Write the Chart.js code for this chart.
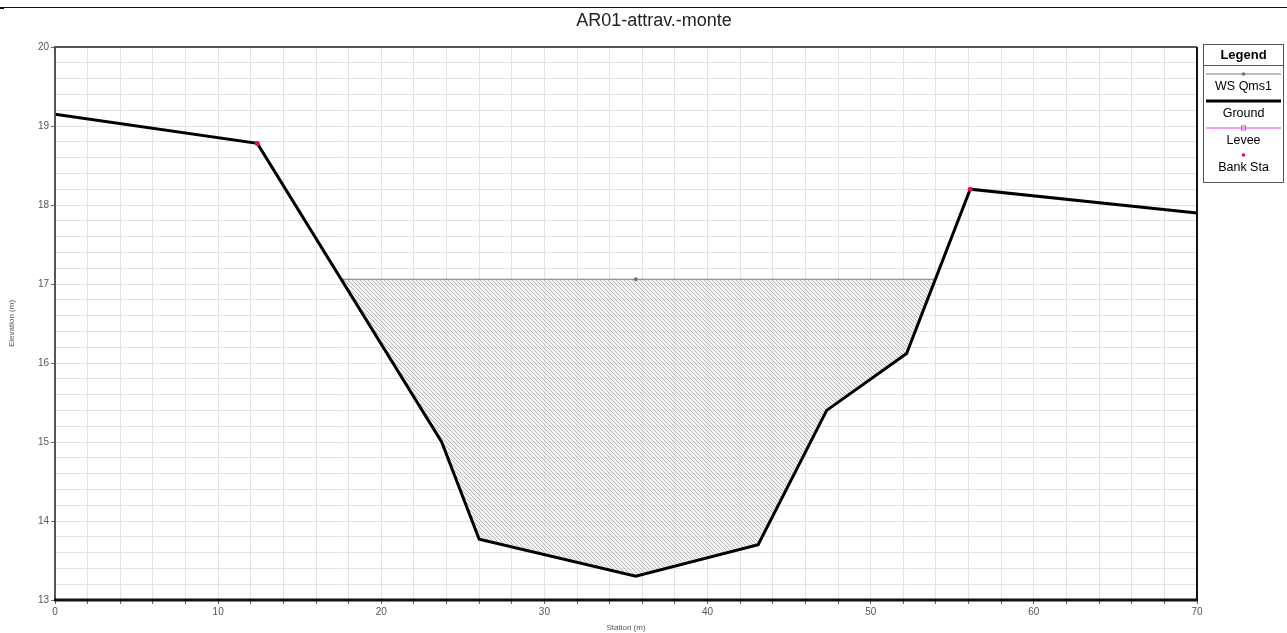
<!DOCTYPE html>
<html>
<head>
<meta charset="utf-8">
<title>AR01-attrav.-monte</title>
<script src="https://cdn.jsdelivr.net/npm/chart.js@4/dist/chart.umd.min.js"></script>
<style>
  html, body { margin: 0; padding: 0; background: #fff; }
  #wrap { position: relative; width: 1287px; height: 633px; }
  #topRule { position: absolute; left: 0; top: 7px; width: 1287px; height: 1px; background: #111; }
  #topRule::before { content: ""; position: absolute; left: 0; top: 0; width: 4px; height: 2px; background: #111; }
  canvas { display: block; }
</style>
</head>
<body>
<div id="wrap">
  <canvas id="chart" width="1287" height="633"></canvas>
  <div id="topRule"></div>
</div>
<script>
// Cross-section AR01 (station / elevation, metres)
const groundStation = [0, 12.4, 23.7, 26.0, 35.6, 43.1, 47.3, 52.2, 56.1, 70];
const groundElev    = [19.15, 18.78, 15.0, 13.77, 13.3, 13.7, 15.4, 16.12, 18.2, 17.9];

// Main-channel bank stations
const bankStation = [12.4, 56.1];
const bankElev    = [18.78, 18.2];

// Computed water surface for profile Qms1
const wsElev = 17.06;
const wsMarkStation = 35.6;

// Axis tick settings
const xTickLabels = [0, 10, 20, 30, 40, 50, 60, 70];
const yTickLabels = [13, 14, 15, 16, 17, 18, 19, 20];

const chartTitle = 'AR01-attrav.-monte';

const ground = groundStation.map((x, i) => ({ x, y: groundElev[i] }));

// Where the water surface meets the ground on either side of the channel
function crossing(fromIdx, step) {
  for (let i = fromIdx; i >= 0 && i + step >= 0 && i + step < ground.length; i += step) {
    const a = ground[i], b = ground[i + step];
    if ((a.y - wsElev) * (b.y - wsElev) <= 0 && a.y !== b.y) {
      const t = (wsElev - a.y) / (b.y - a.y);
      return { x: a.x + t * (b.x - a.x), idx: i };
    }
  }
  return null;
}
const lowIdx = groundElev.indexOf(Math.min(...groundElev));
const leftCross = crossing(lowIdx, -1);
const rightCross = crossing(lowIdx, 1);

// Wetted area polygon: left edge -> ground below water -> right edge
const wetArea = [{ x: leftCross.x, y: wsElev }];
for (let i = 0; i < ground.length; i++) {
  if (ground[i].x > leftCross.x && ground[i].x < rightCross.x && ground[i].y < wsElev) wetArea.push(ground[i]);
}
wetArea.push({ x: rightCross.x, y: wsElev });

const wsLine = [
  { x: leftCross.x, y: wsElev },
  { x: wsMarkStation, y: wsElev },
  { x: rightCross.x, y: wsElev }
];

// Diagonal hatch used for the wetted area
function hatchPattern() {
  const c = document.createElement('canvas');
  c.width = 4; c.height = 4;
  const g = c.getContext('2d');
  g.fillStyle = 'rgba(235,235,235,0.6)';
  g.fillRect(0, 0, 4, 4);
  g.strokeStyle = 'rgba(150,150,150,0.6)';
  g.lineWidth = 1;
  g.beginPath();
  g.moveTo(-1, -1); g.lineTo(5, 5);
  g.moveTo(-1, 3); g.lineTo(1, 5);
  g.moveTo(3, -1); g.lineTo(5, 1);
  g.stroke();
  return g.createPattern(c, 'repeat');
}

const FONT = "'Liberation Sans', Arial, sans-serif";

// Chart heading, centred over the page area to the left of the legend
const heading = {
  id: 'heading',
  afterDraw(chart) {
    const { ctx } = chart;
    ctx.save();
    ctx.fillStyle = '#222';
    ctx.font = '18px ' + FONT;
    ctx.textAlign = 'center';
    ctx.textBaseline = 'middle';
    ctx.fillText(chartTitle, 654, 21);
    ctx.restore();
  }
};

// Frame around the plotting area
const frame = {
  id: 'frame',
  afterDatasetsDraw(chart) {
    const { ctx, chartArea: a } = chart;
    ctx.save();
    ctx.strokeStyle = '#555';
    ctx.lineWidth = 2;
    ctx.beginPath();
    ctx.moveTo(a.left, a.bottom); ctx.lineTo(a.left, a.top); ctx.lineTo(a.right, a.top);
    ctx.stroke();
    ctx.strokeStyle = '#111';
    ctx.beginPath();
    ctx.moveTo(a.right, a.top); ctx.lineTo(a.right, a.bottom);
    ctx.stroke();
    ctx.lineWidth = 3;
    ctx.beginPath();
    ctx.moveTo(a.left - 1, a.bottom); ctx.lineTo(a.right + 1, a.bottom);
    ctx.stroke();
    ctx.restore();
  }
};

// Boxed legend with the symbol above each label
const boxLegend = {
  id: 'boxLegend',
  afterDraw(chart) {
    const { ctx } = chart;
    const left = 1203, right = 1284, top = 44, bottom = 183;
    const cx = (left + right) / 2;
    ctx.save();
    ctx.fillStyle = '#fff';
    ctx.fillRect(left, top, right - left, bottom - top);
    ctx.strokeStyle = '#555';
    ctx.lineWidth = 1;
    ctx.strokeRect(left + 0.5, top + 0.5, right - left - 1, bottom - top - 1);
    ctx.beginPath();
    ctx.moveTo(left, 65.5); ctx.lineTo(right, 65.5);
    ctx.stroke();
    ctx.fillStyle = '#000';
    ctx.textAlign = 'center';
    ctx.textBaseline = 'middle';
    ctx.font = 'bold 13px ' + FONT;
    ctx.fillText('Legend', cx, 55);
    ctx.font = '12.5px ' + FONT;

    const items = chart.data.datasets.filter(d => d.legendRow !== undefined)
      .sort((a, b) => a.legendRow - b.legendRow);
    items.forEach((d, i) => {
      const symY = 74 + i * 27;
      const txtY = 87 + i * 27;
      if (d.showLine !== false && d.borderWidth > 0) {
        ctx.strokeStyle = d.borderColor;
        ctx.lineWidth = d.borderWidth;
        ctx.beginPath();
        ctx.moveTo(left + 3, symY); ctx.lineTo(right - 3, symY);
        ctx.stroke();
      }
      if (d.legendMarker === 'circle') {
        ctx.fillStyle = d.pointBackgroundColor;
        ctx.beginPath(); ctx.arc(cx, symY, 1.8, 0, Math.PI * 2); ctx.fill();
      } else if (d.legendMarker === 'square') {
        ctx.strokeStyle = d.borderColor;
        ctx.lineWidth = 1;
        ctx.strokeRect(cx - 2, symY - 2, 4, 4);
      }
      ctx.fillStyle = '#000';
      ctx.fillText(d.label, cx, txtY);
    });
    ctx.restore();
  }
};

const isWhole = v => Math.abs(v - Math.round(v)) < 1e-6;

new Chart(document.getElementById('chart'), {
  type: 'line',
  data: {
    datasets: [
      {
        label: 'Wetted area',
        data: wetArea,
        fill: 'shape',
        backgroundColor: hatchPattern(),
        borderWidth: 0,
        pointRadius: 0,
        order: 6
      },
      {
        label: 'WS Qms1',
        legendRow: 0,
        legendMarker: 'circle',
        data: wsLine,
        borderColor: '#7a7a7a',
        borderWidth: 1,
        pointRadius: [0, 2, 0],
        pointBackgroundColor: '#707070',
        pointBorderWidth: 0,
        fill: false,
        order: 4
      },
      {
        label: 'Ground',
        legendRow: 1,
        data: ground,
        borderColor: '#000',
        borderWidth: 3,
        pointRadius: 0,
        fill: false,
        order: 2
      },
      {
        label: 'Levee',
        legendRow: 2,
        legendMarker: 'square',
        data: [],
        borderColor: '#e040e0',
        borderWidth: 1,
        pointRadius: 0,
        fill: false,
        order: 3
      },
      {
        label: 'Bank Sta',
        legendRow: 3,
        legendMarker: 'circle',
        data: bankStation.map((x, i) => ({ x, y: bankElev[i] })),
        showLine: false,
        borderColor: '#e0105a',
        borderWidth: 0,
        pointRadius: 2.5,
        pointBorderWidth: 0,
        pointBackgroundColor: '#e0105a',
        order: 1
      }
    ]
  },
  options: {
    responsive: false,
    animation: false,
    events: [],
    layout: { padding: { left: 0, right: 90, top: 47, bottom: 0 } },
    plugins: {
      legend: { display: false },
      tooltip: { enabled: false },
      title: { display: false }
    },
    scales: {
      x: {
        type: 'linear',
        min: xTickLabels[0],
        max: xTickLabels[xTickLabels.length - 1],
        afterFit(s) { s.height = 33; },
        afterBuildTicks(s) {
          const t = [];
          for (let v = s.min; v <= s.max + 1e-9; v += 2) t.push({ value: v });
          s.ticks = t;
        },
        ticks: {
          autoSkip: false,
          maxRotation: 0,
          padding: 2,
          color: '#555',
          font: { family: FONT, size: 10 },
          callback: v => (isWhole(v) && xTickLabels.includes(Math.round(v))) ? String(Math.round(v)) : ''
        },
        grid: {
          color: '#e2e2e2',
          lineWidth: 1,
          tickLength: 4,
          tickColor: '#666'
        },
        border: { display: false },
        title: {
          display: true,
          text: 'Station (m)',
          color: '#555',
          font: { family: FONT, size: 8 },
          padding: { top: 0, bottom: 0 }
        }
      },
      y: {
        type: 'linear',
        min: yTickLabels[0],
        max: yTickLabels[yTickLabels.length - 1],
        afterFit(s) { s.width = 55; },
        afterBuildTicks(s) {
          const t = [];
          for (let k = 0; k <= Math.round((s.max - s.min) / 0.2); k++) t.push({ value: +(s.min + k * 0.2).toFixed(2) });
          s.ticks = t;
        },
        ticks: {
          autoSkip: false,
          padding: 2,
          color: '#555',
          font: { family: FONT, size: 10 },
          callback: v => (isWhole(v) && yTickLabels.includes(Math.round(v))) ? String(Math.round(v)) : ''
        },
        grid: {
          color: '#e2e2e2',
          lineWidth: 1,
          tickLength: 4,
          tickColor: ctx => (ctx.tick && isWhole(ctx.tick.value)) ? '#666' : 'rgba(0,0,0,0)'
        },
        border: { display: false },
        title: {
          display: true,
          text: 'Elevation (m)',
          color: '#555',
          font: { family: FONT, size: 8 },
          padding: { top: 7, bottom: 0 }
        }
      }
    }
  },
  plugins: [frame, boxLegend, heading]
});
</script>
</body>
</html>
